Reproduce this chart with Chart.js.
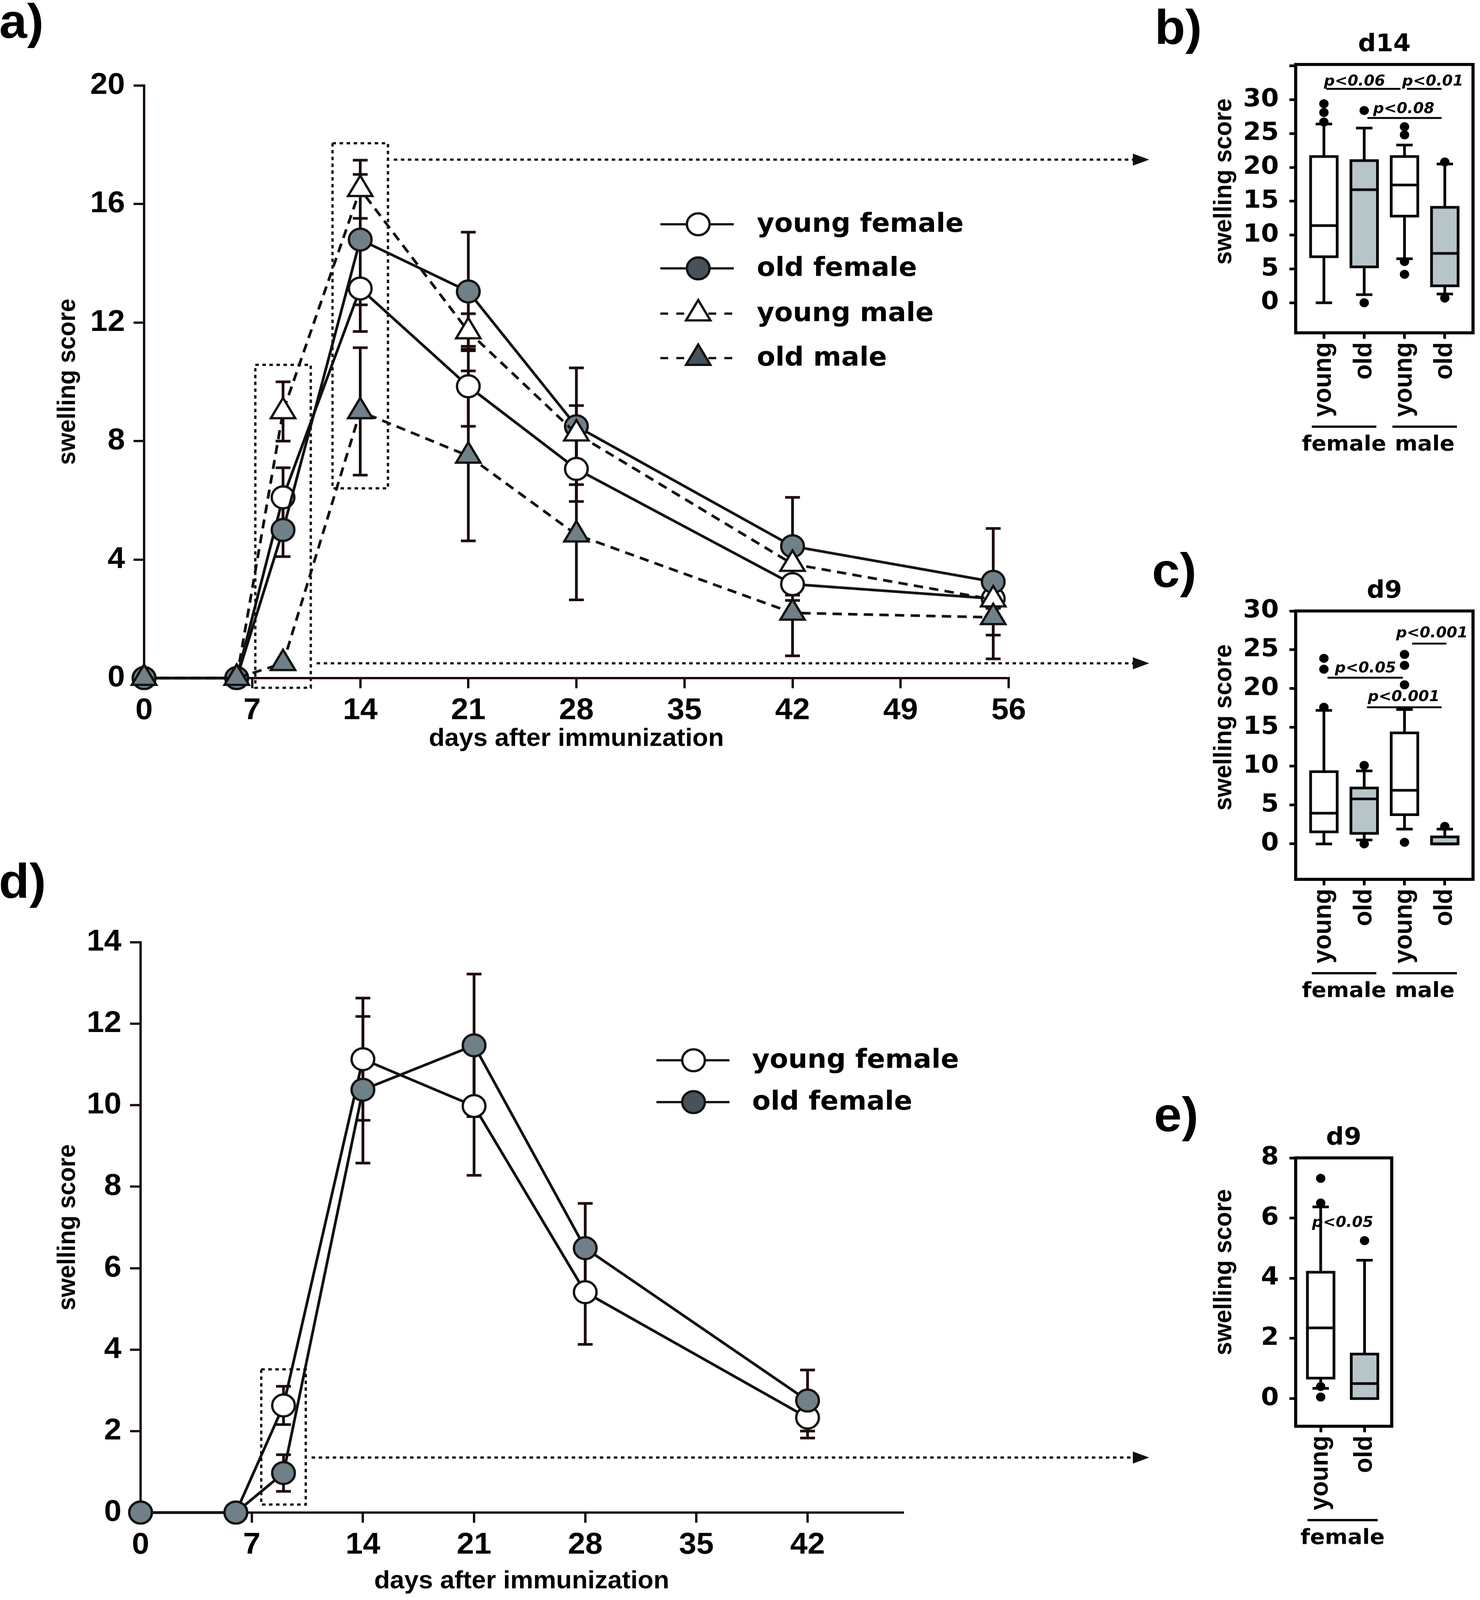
<!DOCTYPE html>
<html>
<head>
<meta charset="utf-8">
<title>swelling score</title>
<script src="https://cdn.jsdelivr.net/npm/chart.js@4.4.1/dist/chart.umd.min.js"></script>
<style>
  html, body { margin: 0; padding: 0; background: #fff; overflow: hidden; }
  #page { position: absolute; left: 0; top: 0; width: 3790px; height: 4245px; transform-origin: 0 0; background: #fff; }
  .panel { position: absolute; }
  .tag { position: absolute; font: bold 128px "Liberation Sans", Arial, sans-serif; line-height: 128px; color: #000; }
</style>
</head>
<body>
<div id="page">
  <div class="panel" style="left:0;top:0;width:2990px;height:2010px"><canvas id="chartA"></canvas></div>
  <div class="panel" style="left:0;top:2250px;width:2990px;height:1995px"><canvas id="chartD"></canvas></div>
  <div class="panel" style="left:2940px;top:0;width:850px;height:1260px"><canvas id="chartB"></canvas></div>
  <div class="panel" style="left:2940px;top:1450px;width:850px;height:1260px"><canvas id="chartC"></canvas></div>
  <div class="panel" style="left:2940px;top:2900px;width:850px;height:1300px"><canvas id="chartE"></canvas></div>
  <div class="tag" style="left:-2px;top:-7px">a)</div>
  <div class="tag" style="left:2957px;top:8px">b)</div>
  <div class="tag" style="left:2950px;top:1450px">c)</div>
  <div class="tag" style="left:-3px;top:2274px">d)</div>
  <div class="tag" style="left:2955px;top:2893px">e)</div>
</div>
<script>
// the figure is laid out at 3790x4245; squeeze it to the visible height if the window is shorter
const fit = Math.min(1, window.innerHeight / 4245);
document.getElementById('page').style.transform = 'scale(1,' + fit + ')';

const NUM_FONT = '"DejaVu Sans", sans-serif';
const TXT_FONT = '"Liberation Sans", Arial, sans-serif';
const INK = '#111';
const BAR = '#1d0808';
const GREY = '#6f8088';
const GREY_DARK = '#47535a';
const BOX_GREY = '#b7c5c9';

// a) swelling over time, female and male
const aDays = [0, 6, 9, 14, 21, 28, 42, 55];
const aYoungFemale = [0, 0, 6.1, 13.15, 9.85, 7.06, 3.17, 2.68];
const aYoungFemaleSd = [0, 0, 1.0, 1.45, 1.35, 1.1, 0.55, 0.3];
const aOldFemale = [0, 0, 5.0, 14.8, 13.05, 8.5, 4.45, 3.25];
const aOldFemaleSd = [0, 0, 0.9, 2.2, 2.0, 1.97, 1.65, 1.8];
const aYoungMale = [0, 0, 9.0, 16.5, 11.7, 8.25, 3.85, 2.65];
const aYoungMaleSd = [0, 0, 1.0, 0.98, 0.6, 0.95, 0.5, 0.3];
const aOldMale = [0, 0, 0.5, 9.0, 7.5, 4.84, 2.2, 2.05];
const aOldMaleSd = [0, 0, 0, 2.15, 2.87, 2.2, 1.45, 1.4];
const aTicksX = [0, 7, 14, 21, 28, 35, 42, 49, 56];
const aTicksY = [0, 4, 8, 12, 16, 20];
const aZoomDays = [9, 14];
const aArrowAt = [0.5, 17.5];

// d) swelling over time, female only
const dDays = [0, 6, 9, 14, 21, 28, 42];
const dYoungFemale = [0, 0, 2.63, 11.13, 9.98, 5.41, 2.33];
const dYoungFemaleSd = [0, 0, 0.47, 1.5, 1.7, 1.28, 0.5];
const dOldFemale = [0, 0, 0.97, 10.38, 11.47, 6.49, 2.75];
const dOldFemaleSd = [0, 0, 0.45, 1.8, 1.75, 1.1, 0.75];
const dTicksX = [0, 7, 14, 21, 28, 35, 42];
const dTicksY = [0, 2, 4, 6, 8, 10, 12, 14];
const dZoomDays = [9];
const dArrowAt = [1.35];

// b) day 14 boxes
const bGroups = ['young', 'old', 'young', 'old'];
const bMin = [0, 1.2, 6.5, 1.3];
const bQ1 = [6.8, 5.3, 12.8, 2.5];
const bMedian = [11.4, 16.7, 17.4, 7.3];
const bQ3 = [21.6, 21.0, 21.6, 14.1];
const bMax = [26.4, 25.8, 23.3, 20.5];
const bOutliers = [[26.7, 28.1, 29.4], [0, 28.4], [4.2, 6.1, 24.8, 26.0], [0.7, 20.8]];
const bTicksY = [0, 5, 10, 15, 20, 25, 30, 35];
const bPText = ['p<0.06', 'p<0.01', 'p<0.08'];
const bPTextX = [0.76, 2.70, 1.98];
const bPTextY = [32.1, 32.1, 28.0];
const bPLineFrom = [0.06, 2.06, 1.08];
const bPLineTo = [1.9, 2.92, 2.92];
const bPLineY = [31.6, 31.6, 27.3];

// c) day 9 boxes
const cGroups = ['young', 'old', 'young', 'old'];
const cMin = [0, 0.5, 1.9, 0];
const cQ1 = [1.55, 1.35, 3.76, 0];
const cMedian = [3.95, 5.8, 6.9, 0];
const cQ3 = [9.3, 7.2, 14.3, 0.9];
const cMax = [17.2, 9.4, 17.3, 1.9];
const cOutliers = [[17.6, 22.5, 23.9], [0, 10.1], [0.2, 20.5, 23.0, 24.4], [2.25]];
const cTicksY = [0, 5, 10, 15, 20, 25, 30];
const cPText = ['p<0.05', 'p<0.001', 'p<0.001'];
const cPTextX = [1.03, 2.68, 1.98];
const cPTextY = [22.07, 26.6, 18.4];
const cPLineFrom = [0.09, 2.19, 1.07];
const cPLineTo = [1.96, 3.04, 2.92];
const cPLineY = [21.4, 25.8, 17.6];

// e) day 9 boxes, female only
const eGroups = ['young', 'old'];
const eMin = [0.34, 0];
const eQ1 = [0.68, 0];
const eMedian = [2.35, 0.5];
const eQ3 = [4.2, 1.48];
const eMax = [6.37, 4.6];
const eOutliers = [[0.05, 0.4, 6.5, 7.32], [5.25]];
const eTicksY = [0, 2, 4, 6, 8];
const ePText = ['p<0.05'];
const ePTextX = [0.5];
const ePTextY = [5.71];

function pts(days, vals) {
  return days.map((d, i) => ({ x: d, y: vals[i] }));
}

function series(label, days, vals, sd, shape, fill, legendFill, dashed, order) {
  return {
    label, data: pts(days, vals), errors: sd, legendFill,
    borderColor: INK, borderWidth: 7, borderDash: dashed ? [24, 16] : [],
    pointStyle: shape, pointRadius: shape === 'triangle' ? 36 : 29, pointBorderWidth: 6,
    pointBorderColor: INK, pointBackgroundColor: fill, backgroundColor: fill,
    tension: 0, clip: false, order
  };
}

function drawMarker(ctx, shape, x, y, r, fill) {
  ctx.beginPath();
  if (shape === 'triangle') {
    ctx.moveTo(x, y - r);
    ctx.lineTo(x + r * Math.sin(Math.PI / 3), y + r / 2);
    ctx.lineTo(x - r * Math.sin(Math.PI / 3), y + r / 2);
    ctx.closePath();
  } else {
    ctx.arc(x, y, r, 0, Math.PI * 2);
  }
  ctx.fillStyle = fill;
  ctx.fill();
  ctx.lineWidth = 6;
  ctx.strokeStyle = INK;
  ctx.stroke();
}

const errorBars = {
  id: 'errorBars',
  beforeDatasetsDraw(chart) {
    const { ctx, scales: { y } } = chart;
    ctx.save();
    ctx.strokeStyle = BAR;
    ctx.lineWidth = 7;
    chart.data.datasets.forEach((ds, di) => {
      chart.getDatasetMeta(di).data.forEach((pt, i) => {
        const e = ds.errors[i];
        if (!e) return;
        const v = ds.data[i].y;
        const top = y.getPixelForValue(v + e);
        const bot = y.getPixelForValue(v - e);
        ctx.beginPath();
        ctx.moveTo(pt.x, top); ctx.lineTo(pt.x, bot);
        ctx.moveTo(pt.x - 19, top); ctx.lineTo(pt.x + 19, top);
        ctx.moveTo(pt.x - 19, bot); ctx.lineTo(pt.x + 19, bot);
        ctx.stroke();
      });
    });
    ctx.restore();
  }
};

// dotted frames round the days shown as boxes, with an arrow to the box panel
function zoomFrames(zoomDays, arrowAt, halfWidth) {
  return {
    id: 'zoomFrames',
    afterDraw(chart) {
      const { ctx, scales: { x, y } } = chart;
      ctx.save();
      ctx.strokeStyle = INK;
      ctx.lineWidth = 6;
      ctx.setLineDash([9, 9]);
      zoomDays.forEach((day, k) => {
        let top = Infinity, bot = -Infinity;
        chart.data.datasets.forEach(ds => {
          const i = ds.data.findIndex(p => p.x === day);
          const v = ds.data[i].y, e = ds.errors[i];
          top = Math.min(top, y.getPixelForValue(v + e), y.getPixelForValue(v) - 30);
          bot = Math.max(bot, y.getPixelForValue(v - e), y.getPixelForValue(v) + 30);
        });
        const cx = x.getPixelForValue(day);
        const left = cx - halfWidth, right = cx + halfWidth;
        ctx.strokeRect(left, top - 45, right - left, bot - top + 80);
        const ay = y.getPixelForValue(arrowAt[k]);
        const tip = chart.width - 47;
        ctx.beginPath();
        ctx.moveTo(right + 15, ay);
        ctx.lineTo(tip - 40, ay);
        ctx.stroke();
        ctx.save();
        ctx.setLineDash([]);
        ctx.fillStyle = INK;
        ctx.beginPath();
        ctx.moveTo(tip, ay);
        ctx.lineTo(tip - 42, ay - 16);
        ctx.lineTo(tip - 42, ay + 16);
        ctx.closePath();
        ctx.fill();
        ctx.restore();
      });
      ctx.restore();
    }
  };
}

function lineLegend(lineFrom, lineTo, markX, textX, rows) {
  return {
    id: 'lineLegend',
    afterDraw(chart) {
      const { ctx } = chart;
      ctx.save();
      chart.data.datasets.forEach((ds, i) => {
        const yy = rows[i];
        ctx.strokeStyle = INK;
        ctx.lineWidth = 6;
        ctx.setLineDash(ds.borderDash.length ? [20, 21] : []);
        ctx.beginPath();
        ctx.moveTo(lineFrom, yy); ctx.lineTo(lineTo, yy);
        ctx.stroke();
        ctx.setLineDash([]);
        drawMarker(ctx, ds.pointStyle, markX, yy, ds.pointRadius, ds.legendFill);
        ctx.fillStyle = '#000';
        ctx.font = 'bold 69px ' + NUM_FONT;
        ctx.textAlign = 'left';
        ctx.textBaseline = 'middle';
        ctx.fillText(ds.label, textX, yy + 2);
      });
      ctx.restore();
    }
  };
}

function timeCourse(id, datasets, xMax, ticksX, yMax, ticksY, pad, axisW, axisH, extra) {
  return new Chart(document.getElementById(id), {
    type: 'line',
    data: { datasets },
    options: {
      responsive: true, maintainAspectRatio: false, animation: false, devicePixelRatio: 1, events: [],
      layout: { padding: pad },
      plugins: { legend: { display: false }, tooltip: { enabled: false } },
      scales: {
        x: {
          type: 'linear', min: 0, max: xMax,
          afterBuildTicks: s => { s.ticks = ticksX.map(v => ({ value: v })); },
          afterFit: s => { s.height = axisH; },
          ticks: { color: '#000', padding: 12, maxRotation: 0, autoSkip: false,
                   font: { family: TXT_FONT, weight: 'bold', size: 80 } },
          grid: { drawOnChartArea: false, tickLength: 27, color: BAR, lineWidth: 6 },
          border: { color: BAR, width: 6 },
          title: { display: true, text: 'days after immunization', color: '#000',
                   font: { family: TXT_FONT, weight: 'bold', size: 66 }, padding: { top: 0, bottom: 10 } }
        },
        y: {
          min: 0, max: yMax,
          afterBuildTicks: s => { s.ticks = ticksY.map(v => ({ value: v })); },
          afterFit: s => { s.width = axisW; },
          ticks: { color: '#000', padding: 22, font: { family: TXT_FONT, weight: 'bold', size: 80 } },
          grid: { drawOnChartArea: false, tickLength: 27, color: BAR, lineWidth: 6 },
          border: { color: BAR, width: 6 },
          title: { display: true, text: 'swelling score', color: '#000',
                   font: { family: TXT_FONT, weight: 'bold', size: 64 }, padding: { top: 136, bottom: 0 } }
        }
      }
    },
    plugins: [errorBars].concat(extra)
  });
}

timeCourse('chartA', [
  series('young female', aDays, aYoungFemale, aYoungFemaleSd, 'circle', '#fff', '#fff', false, 3),
  series('old female', aDays, aOldFemale, aOldFemaleSd, 'circle', GREY, GREY_DARK, false, 2),
  series('young male', aDays, aYoungMale, aYoungMaleSd, 'triangle', '#fff', '#fff', true, 1),
  series('old male', aDays, aOldMale, aOldMaleSd, 'triangle', GREY, GREY_DARK, true, 0)
], 56, aTicksX, 20, aTicksY, { left: 0, top: 227, right: 407, bottom: 0 }, 369, 211,
  [zoomFrames(aZoomDays, aArrowAt, 71), lineLegend(1691, 1879, 1788, 1938, [595, 712, 832, 950])]);

timeCourse('chartD', [
  series('young female', dDays, dYoungFemale, dYoungFemaleSd, 'circle', '#fff', '#fff', false, 1),
  series('old female', dDays, dOldFemale, dOldFemaleSd, 'circle', GREY, GREY_DARK, false, 0)
], 48, dTicksX, 14, dTicksY, { left: 0, top: 250, right: 678, bottom: 0 }, 360, 232,
  [zoomFrames(dZoomDays, dArrowAt, 57), lineLegend(1681, 1868, 1776, 1926, [563, 674])]);

function boxPanel(c) {
  return {
    id: 'boxPanel',
    beforeDatasetsDraw(chart) {
      const { ctx, scales: { x, y } } = chart;
      ctx.save();
      ctx.strokeStyle = '#000';
      ctx.lineWidth = 7;
      c.groups.forEach((g, i) => {
        const cx = x.getPixelForValue(i);
        const lo = y.getPixelForValue(c.min[i]);
        const q1 = y.getPixelForValue(c.q1[i]);
        const med = y.getPixelForValue(c.median[i]);
        const q3 = y.getPixelForValue(c.q3[i]);
        const hi = y.getPixelForValue(c.max[i]);
        ctx.beginPath();
        ctx.moveTo(cx, lo); ctx.lineTo(cx, q1);
        ctx.moveTo(cx, q3); ctx.lineTo(cx, hi);
        ctx.moveTo(cx - 21, lo); ctx.lineTo(cx + 21, lo);
        ctx.moveTo(cx - 21, hi); ctx.lineTo(cx + 21, hi);
        ctx.stroke();
        ctx.fillStyle = i % 2 ? BOX_GREY : '#fff';
        ctx.fillRect(cx - 34, q3, 68, q1 - q3);
        ctx.strokeRect(cx - 34, q3, 68, q1 - q3);
        ctx.beginPath();
        ctx.moveTo(cx - 34, med); ctx.lineTo(cx + 34, med);
        ctx.stroke();
      });
      ctx.restore();
    },
    afterDraw(chart) {
      const { ctx, chartArea: a, scales: { x, y } } = chart;
      ctx.save();
      ctx.strokeStyle = '#000';
      ctx.lineWidth = 8;
      ctx.strokeRect(a.left, a.top, a.right - a.left, a.bottom - a.top);
      ctx.fillStyle = '#000';
      ctx.textAlign = 'center';
      ctx.textBaseline = 'alphabetic';
      ctx.font = 'bold 64px ' + NUM_FONT;
      ctx.fillText(c.title, (a.left + a.right) / 2, a.top - 35);
      ctx.save();
      ctx.translate(a.left - 183, y.getPixelForValue(c.titleMid));
      ctx.rotate(-Math.PI / 2);
      ctx.textBaseline = 'middle';
      ctx.font = 'bold 64px ' + TXT_FONT;
      ctx.fillText('swelling score', 0, 0);
      ctx.restore();
      ctx.font = 'italic bold 39px ' + NUM_FONT;
      ctx.lineWidth = 5;
      c.pText.forEach((t, k) => {
        ctx.fillText(t, x.getPixelForValue(c.pTextX[k]), y.getPixelForValue(c.pTextY[k]));
        if (c.pLineY) {
          const ly = y.getPixelForValue(c.pLineY[k]);
          ctx.beginPath();
          ctx.moveTo(x.getPixelForValue(c.pLineFrom[k]), ly);
          ctx.lineTo(x.getPixelForValue(c.pLineTo[k]), ly);
          ctx.stroke();
        }
      });
      ctx.font = 'bold 56px ' + NUM_FONT;
      ctx.textBaseline = 'middle';
      ctx.lineWidth = 6;
      c.sexes.forEach((s, k) => {
        const from = x.getPixelForValue(2 * k - 0.3);
        const to = x.getPixelForValue(2 * k + 1.3);
        ctx.beginPath();
        ctx.moveTo(from, a.bottom + 249); ctx.lineTo(to, a.bottom + 249);
        ctx.stroke();
        ctx.fillText(s, (from + to) / 2, a.bottom + 297);
      });
      ctx.restore();
    }
  };
}

function boxChart(id, c) {
  return new Chart(document.getElementById(id), {
    type: 'scatter',
    data: {
      datasets: [{
        data: c.outliers.flatMap((vals, i) => vals.map(v => ({ x: i, y: v }))),
        pointRadius: 12, pointHoverRadius: 12, backgroundColor: '#000', borderWidth: 0, clip: false
      }]
    },
    options: {
      responsive: true, maintainAspectRatio: false, animation: false, devicePixelRatio: 1, events: [],
      layout: { padding: { left: 0, top: c.padTop, right: c.padRight, bottom: 0 } },
      plugins: { legend: { display: false }, tooltip: { enabled: false } },
      scales: {
        x: {
          type: 'linear', min: c.xMin, max: c.xMax,
          afterBuildTicks: s => { s.ticks = c.groups.map((g, i) => ({ value: i })); },
          afterFit: s => { s.height = c.axisH; },
          ticks: { callback: v => c.groups[v], minRotation: 90, maxRotation: 90, autoSkip: false,
                   padding: 9, color: '#000', font: { family: TXT_FONT, weight: 'bold', size: 66 } },
          grid: { drawOnChartArea: false, tickLength: 16, color: '#000', lineWidth: 7 },
          border: { color: '#000', width: 8 }
        },
        y: {
          min: c.yMin, max: c.yMax,
          afterBuildTicks: s => { s.ticks = c.ticksY.map(v => ({ value: v })); },
          afterFit: s => { s.width = 378; },
          ticks: { callback: v => (v <= c.labelMax ? v : ''), padding: 27, color: '#000',
                   font: { family: NUM_FONT, weight: 'bold', size: 66 } },
          grid: { drawOnChartArea: false, tickLength: 16, color: '#000', lineWidth: 7 },
          border: { color: '#000', width: 8 }
        }
      }
    },
    plugins: [boxPanel(c)]
  });
}

boxChart('chartB', {
  title: 'd14', groups: bGroups, sexes: ['female', 'male'],
  min: bMin, q1: bQ1, median: bMedian, q3: bQ3, max: bMax, outliers: bOutliers,
  ticksY: bTicksY, labelMax: 30, yMin: -4.44, yMax: 35.2, xMin: -0.7, xMax: 3.7, titleMid: 17.9,
  pText: bPText, pTextX: bPTextX, pTextY: bPTextY, pLineFrom: bPLineFrom, pLineTo: bPLineTo, pLineY: bPLineY,
  padTop: 171, padRight: 3, axisH: 377
});

boxChart('chartC', {
  title: 'd9', groups: cGroups, sexes: ['female', 'male'],
  min: cMin, q1: cQ1, median: cMedian, q3: cQ3, max: cMax, outliers: cOutliers,
  ticksY: cTicksY, labelMax: 30, yMin: -4.57, yMax: 30, xMin: -0.7, xMax: 3.7, titleMid: 15,
  pText: cPText, pTextX: cPTextX, pTextY: cPTextY, pLineFrom: cPLineFrom, pLineTo: cPLineTo, pLineY: cPLineY,
  padTop: 171, padRight: 3, axisH: 377
});

boxChart('chartE', {
  title: 'd9', groups: eGroups, sexes: ['female'],
  min: eMin, q1: eQ1, median: eMedian, q3: eQ3, max: eMax, outliers: eOutliers,
  ticksY: eTicksY, labelMax: 8, yMin: -0.92, yMax: 8, xMin: -0.57, xMax: 1.62, titleMid: 4.2,
  pText: ePText, pTextX: ePTextX, pTextY: ePTextY,
  padTop: 172, padRight: 226, axisH: 416
});
</script>
</body>
</html>
